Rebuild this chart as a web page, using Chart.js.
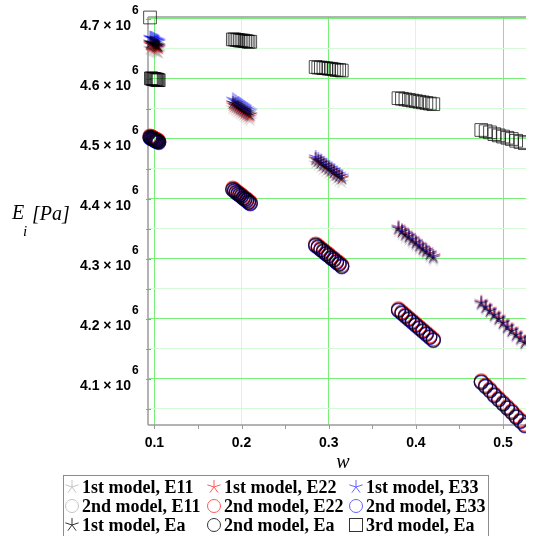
<!DOCTYPE html>
<html>
<head>
<meta charset="utf-8">
<script src="https://cdn.jsdelivr.net/npm/chart.js@4.4.1/dist/chart.umd.min.js"></script>
<style>
  html, body { margin: 0; padding: 0; background: #fff; }
</style>
</head>
<body>
<canvas id="chart" width="536" height="536"></canvas>
<script>
// w values: 11 points around each nominal w
const w = [
  0.095, 0.096, 0.097, 0.098, 0.099, 0.100, 0.101, 0.102, 0.103, 0.104, 0.105,
  0.190, 0.192, 0.194, 0.196, 0.198, 0.200, 0.202, 0.204, 0.206, 0.208, 0.210,
  0.285, 0.288, 0.291, 0.294, 0.297, 0.300, 0.303, 0.306, 0.309, 0.312, 0.315,
  0.380, 0.384, 0.388, 0.392, 0.396, 0.400, 0.404, 0.408, 0.412, 0.416, 0.420,
  0.475, 0.480, 0.485, 0.490, 0.495, 0.500, 0.505, 0.510, 0.515, 0.520, 0.525
];

// E values in units of 10^6 Pa
const e11_1st = [
  4.651, 4.650, 4.650, 4.649, 4.648, 4.648, 4.647, 4.646, 4.646, 4.645, 4.644,
  4.552, 4.550, 4.548, 4.546, 4.544, 4.542, 4.540, 4.538, 4.536, 4.534, 4.532,
  4.460, 4.457, 4.454, 4.450, 4.447, 4.444, 4.441, 4.438, 4.434, 4.431, 4.428,
  4.346, 4.341, 4.336, 4.332, 4.327, 4.322, 4.317, 4.312, 4.308, 4.303, 4.298,
  4.223, 4.216, 4.210, 4.203, 4.197, 4.190, 4.183, 4.177, 4.170, 4.164, 4.157
];
const e22_1st = [
  4.658, 4.657, 4.657, 4.656, 4.655, 4.655, 4.654, 4.653, 4.653, 4.652, 4.651,
  4.557, 4.555, 4.553, 4.551, 4.549, 4.547, 4.545, 4.543, 4.541, 4.539, 4.537,
  4.467, 4.464, 4.461, 4.457, 4.454, 4.451, 4.448, 4.445, 4.441, 4.438, 4.435,
  4.353, 4.348, 4.343, 4.339, 4.334, 4.329, 4.324, 4.319, 4.315, 4.310, 4.305,
  4.229, 4.222, 4.216, 4.209, 4.203, 4.196, 4.189, 4.183, 4.176, 4.170, 4.163
];
const e33_1st = [
  4.669, 4.668, 4.668, 4.667, 4.666, 4.666, 4.665, 4.664, 4.664, 4.663, 4.662,
  4.566, 4.564, 4.562, 4.560, 4.558, 4.556, 4.554, 4.552, 4.550, 4.548, 4.546,
  4.470, 4.467, 4.464, 4.460, 4.457, 4.454, 4.451, 4.448, 4.444, 4.441, 4.438,
  4.352, 4.347, 4.342, 4.338, 4.333, 4.328, 4.323, 4.318, 4.314, 4.309, 4.304,
  4.227, 4.220, 4.214, 4.207, 4.201, 4.194, 4.187, 4.181, 4.174, 4.168, 4.161
];
const ea_1st = [
  4.661, 4.660, 4.660, 4.659, 4.658, 4.658, 4.657, 4.656, 4.656, 4.655, 4.654,
  4.560, 4.558, 4.556, 4.554, 4.552, 4.550, 4.548, 4.546, 4.544, 4.542, 4.540,
  4.466, 4.463, 4.460, 4.456, 4.453, 4.450, 4.447, 4.444, 4.440, 4.437, 4.434,
  4.350, 4.345, 4.340, 4.336, 4.331, 4.326, 4.321, 4.316, 4.312, 4.307, 4.302,
  4.226, 4.219, 4.213, 4.206, 4.200, 4.193, 4.186, 4.180, 4.173, 4.167, 4.160
];
const e11_2nd = [
  4.503, 4.502, 4.501, 4.501, 4.500, 4.499, 4.498, 4.497, 4.497, 4.496, 4.495,
  4.416, 4.414, 4.411, 4.409, 4.407, 4.405, 4.402, 4.400, 4.398, 4.395, 4.393,
  4.323, 4.320, 4.316, 4.313, 4.309, 4.306, 4.302, 4.299, 4.295, 4.292, 4.288,
  4.215, 4.210, 4.205, 4.200, 4.195, 4.190, 4.185, 4.180, 4.175, 4.170, 4.165,
  4.095, 4.088, 4.081, 4.073, 4.066, 4.059, 4.052, 4.045, 4.037, 4.030, 4.023
];
const e22_2nd = [
  4.505, 4.504, 4.503, 4.503, 4.502, 4.501, 4.500, 4.499, 4.499, 4.498, 4.497,
  4.418, 4.416, 4.413, 4.411, 4.409, 4.407, 4.404, 4.402, 4.400, 4.397, 4.395,
  4.325, 4.322, 4.318, 4.315, 4.311, 4.308, 4.304, 4.301, 4.297, 4.294, 4.290,
  4.217, 4.212, 4.207, 4.202, 4.197, 4.192, 4.187, 4.182, 4.177, 4.172, 4.167,
  4.097, 4.090, 4.083, 4.075, 4.068, 4.061, 4.054, 4.047, 4.039, 4.032, 4.025
];
const e33_2nd = [
  4.502, 4.501, 4.500, 4.500, 4.499, 4.498, 4.497, 4.496, 4.496, 4.495, 4.494,
  4.415, 4.413, 4.410, 4.408, 4.406, 4.404, 4.401, 4.399, 4.397, 4.394, 4.392,
  4.322, 4.319, 4.315, 4.312, 4.308, 4.305, 4.301, 4.298, 4.294, 4.291, 4.287,
  4.214, 4.209, 4.204, 4.199, 4.194, 4.189, 4.184, 4.179, 4.174, 4.169, 4.164,
  4.094, 4.087, 4.080, 4.072, 4.065, 4.058, 4.051, 4.044, 4.036, 4.029, 4.022
];
const ea_2nd = [
  4.503, 4.502, 4.501, 4.501, 4.500, 4.499, 4.498, 4.497, 4.497, 4.496, 4.495,
  4.416, 4.414, 4.411, 4.409, 4.407, 4.405, 4.402, 4.400, 4.398, 4.395, 4.393,
  4.323, 4.320, 4.316, 4.313, 4.309, 4.306, 4.302, 4.299, 4.295, 4.292, 4.288,
  4.215, 4.210, 4.205, 4.200, 4.195, 4.190, 4.185, 4.180, 4.175, 4.170, 4.165,
  4.095, 4.088, 4.081, 4.073, 4.066, 4.059, 4.052, 4.045, 4.037, 4.030, 4.023
];
const ea_3rd = [
  4.7025, 4.601, 4.601, 4.600, 4.600, 4.600, 4.599, 4.599, 4.599, 4.598, 4.598,
  4.666, 4.666, 4.665, 4.665, 4.664, 4.664, 4.664, 4.663, 4.663, 4.662, 4.662,
  4.620, 4.619, 4.619, 4.618, 4.618, 4.617, 4.617, 4.616, 4.615, 4.615, 4.614,
  4.568, 4.567, 4.566, 4.565, 4.564, 4.563, 4.562, 4.561, 4.560, 4.559, 4.558,
  4.515, 4.513, 4.511, 4.508, 4.506, 4.504, 4.502, 4.500, 4.497, 4.495, 4.493
];

const seriesLabels = [
  "1st model, E11", "1st model, E22", "1st model, E33",
  "2nd model, E11", "2nd model, E22", "2nd model, E33",
  "1st model, Ea", "2nd model, Ea", "3rd model, Ea"
];

const xTickValues = [0.1, 0.2, 0.3, 0.4, 0.5];
const xTickLabels = ["0.1", "0.2", "0.3", "0.4", "0.5"];
const xMinorTicks = [0.15, 0.25, 0.35, 0.45];
const xBrightGrid = [0.1, 0.3, 0.5];
const yTickValues = [4.1, 4.2, 4.3, 4.4, 4.5, 4.6, 4.7];
const yTickLabels = ["4.1", "4.2", "4.3", "4.4", "4.5", "4.6", "4.7"];
const yMinorTicks = [4.05, 4.15, 4.25, 4.35, 4.45, 4.55, 4.65];

const GRAY = "rgba(150,150,150,0.55)";
const RED = "rgba(255,0,0,0.65)";
const BLUE = "rgba(0,0,255,0.65)";
const BLACK = "rgba(0,0,0,0.7)";

// 5-arm asterisk marker like Maple's
function asterisk(color, r) {
  const c = document.createElement("canvas");
  c.width = c.height = 2 * r + 2;
  const g = c.getContext("2d");
  g.strokeStyle = color;
  g.lineWidth = 1;
  g.beginPath();
  for (let k = 0; k < 5; k++) {
    const a = -Math.PI / 2 + k * 2 * Math.PI / 5;
    g.moveTo(r + 1, r + 1);
    g.lineTo(r + 1 + r * Math.cos(a), r + 1 + r * Math.sin(a));
  }
  g.stroke();
  return c;
}

function pts(ys) {
  return ys.map((y, i) => ({ x: w[i], y: y }));
}

const seriesData = [e11_1st, e22_1st, e33_1st, e11_2nd, e22_2nd, e33_2nd, ea_1st, ea_2nd, ea_3rd];
const seriesColor = [GRAY, RED, BLUE, GRAY, RED, BLUE, BLACK, BLACK, BLACK];
const seriesShape = ["star", "star", "star", "circle", "circle", "circle", "star", "circle", "rect"];

const datasets = seriesData.map((ys, i) => {
  const shape = seriesShape[i];
  return {
    label: seriesLabels[i],
    data: pts(ys),
    showLine: false,
    order: 8 - i,
    clip: { left: false, top: false, right: 0, bottom: false },
    pointStyle: shape === "star" ? asterisk(seriesColor[i], 7) : shape,
    pointRadius: shape === "rect" ? 9 : 7,
    pointBorderWidth: shape === "circle" ? 1.2 : 1,
    pointBorderColor: seriesColor[i],
    pointBackgroundColor: "rgba(0,0,0,0)"
  };
});

function near(v, list) {
  return list.some(t => Math.abs(t - v) < 1e-6);
}

const deco = {
  id: "deco",
  beforeDatasetsDraw(chart) {
    const ctx = chart.ctx;
    const a = chart.chartArea;
    const xs = chart.scales.x, ys = chart.scales.y;
    ctx.save();
    ctx.strokeStyle = "#9a9a9a";
    ctx.lineWidth = 1.5;
    ctx.beginPath();
    ctx.moveTo(a.left, a.top); ctx.lineTo(a.right, a.top);
    ctx.moveTo(a.left, a.top); ctx.lineTo(a.left, a.bottom);
    ctx.moveTo(a.left, a.bottom); ctx.lineTo(a.right, a.bottom);
    ctx.stroke();
    ctx.lineWidth = 1;
    ctx.beginPath();
    yTickValues.concat(yMinorTicks).forEach(v => {
      const y = Math.round(ys.getPixelForValue(v)) + 0.5;
      ctx.moveTo(a.left - 2, y); ctx.lineTo(a.left + 3, y);
    });
    xTickValues.concat(xMinorTicks).forEach(v => {
      const x = Math.round(xs.getPixelForValue(v)) + 0.5;
      ctx.moveTo(x, a.bottom); ctx.lineTo(x, a.bottom + 4);
    });
    ctx.stroke();
    ctx.restore();
  },
  afterDraw(chart) {
    const ctx = chart.ctx;
    const xs = chart.scales.x, ys = chart.scales.y;
    ctx.save();
    ctx.fillStyle = "#000";
    // y tick labels with 10^6
    yTickValues.forEach((v, i) => {
      const y = ys.getPixelForValue(v);
      ctx.font = 'bold 14px "Liberation Sans"';
      ctx.textAlign = "right";
      ctx.textBaseline = "middle";
      ctx.fillText(yTickLabels[i] + " \u00d7 10", 131, y + 7);
      ctx.font = 'bold 12px "Liberation Sans"';
      ctx.textAlign = "left";
      ctx.fillText("6", 132, y - 8);
    });
    // x tick labels
    ctx.font = 'bold 14px "Liberation Sans"';
    ctx.textAlign = "center";
    ctx.textBaseline = "middle";
    xTickValues.forEach((v, i) => {
      ctx.fillText(xTickLabels[i], xs.getPixelForValue(v), 443);
    });
    // axis titles
    ctx.font = 'italic 20px "Liberation Serif"';
    ctx.fillText("w", 343, 463);
    ctx.textAlign = "left";
    ctx.fillText("E", 12, 214);
    ctx.font = 'italic 15px "Liberation Serif"';
    ctx.fillText("i", 23, 232);
    ctx.font = 'italic 20px "Liberation Serif"';
    ctx.fillText("[Pa]", 32, 215);

    // legend
    const colX = [72, 214, 356];
    const rowY = [487, 506, 525];
    const legendColor = ["#c4c4c4", "#ff5a5a", "#6464ff", "#c4c4c4", "#ff5a5a", "#6464ff", "#333", "#333", "#333"];
    ctx.strokeStyle = "#8c8c8c";
    ctx.lineWidth = 1;
    ctx.strokeRect(63.5, 475.5, 425, 62);
    ctx.font = 'bold 18px "Liberation Serif"';
    ctx.textBaseline = "middle";
    seriesLabels.forEach((lab, i) => {
      const cx = colX[i % 3], cy = rowY[Math.floor(i / 3)];
      const shape = seriesShape[i];
      ctx.strokeStyle = legendColor[i];
      if (shape === "star") {
        const img = asterisk(legendColor[i], 7);
        ctx.drawImage(img, cx - 8, cy - 8);
      } else if (shape === "circle") {
        ctx.beginPath();
        ctx.arc(cx, cy, 6.5, 0, Math.PI * 2);
        ctx.stroke();
      } else {
        ctx.strokeRect(cx - 6.5, cy - 6.5, 13, 13);
      }
      ctx.fillStyle = "#000";
      ctx.fillText(lab, cx + 10, cy + 1);
    });
    ctx.restore();
  }
};

new Chart(document.getElementById("chart"), {
  type: "scatter",
  data: { datasets: datasets },
  options: {
    responsive: false,
    animation: false,
    layout: { padding: { left: 148, top: 17, right: 0, bottom: 111 } },
    plugins: { legend: { display: false }, tooltip: { enabled: false } },
    scales: {
      x: {
        type: "linear",
        min: 0.0927,
        max: 0.5263,
        afterBuildTicks: s => { s.ticks = xTickValues.map(v => ({ value: v })); },
        ticks: { display: false },
        border: { display: false },
        grid: {
          drawTicks: false,
          lineWidth: 1,
          color: c => (c.tick && near(c.tick.value, xBrightGrid)) ? "#78f078" : "#d6f9d6"
        }
      },
      y: {
        type: "linear",
        min: 4.0233,
        max: 4.7033,
        afterBuildTicks: s => { s.ticks = yTickValues.concat(yMinorTicks).map(v => ({ value: v })); },
        ticks: { display: false },
        border: { display: false },
        grid: {
          drawTicks: false,
          lineWidth: 1,
          color: c => (c.tick && near(c.tick.value, yTickValues)) ? "#78f078" : "#d6f9d6"
        }
      }
    }
  },
  plugins: [deco]
});
</script>
</body>
</html>
